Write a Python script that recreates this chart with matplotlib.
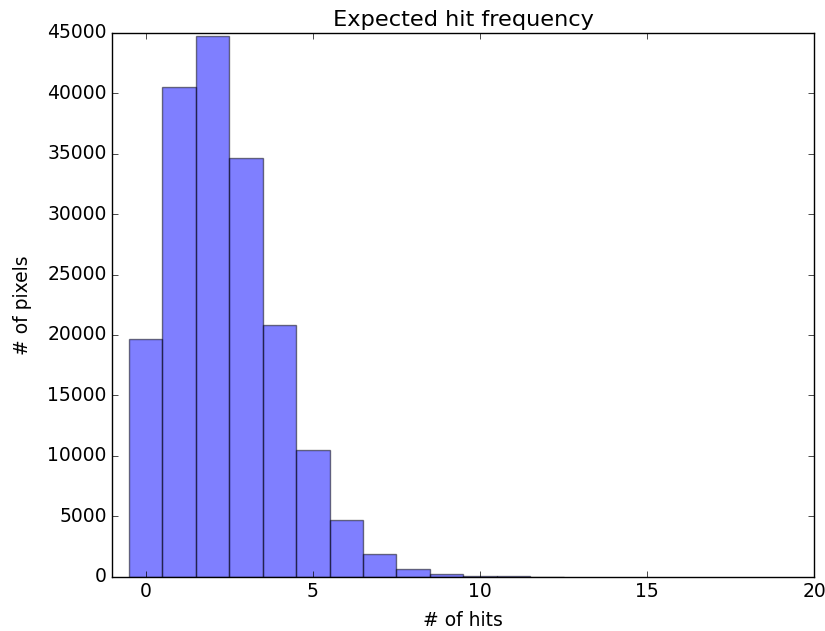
import matplotlib
matplotlib.use("Agg")
import matplotlib.pyplot as plt

hits = [0, 1, 2, 3, 4, 5, 6, 7, 8, 9, 10, 11, 12]
pixels = [19700, 40500, 44750, 34650, 20800, 10500, 4700, 1850, 650, 200, 60, 20, 8]

plt.style.use('classic')
plt.rcParams['font.size'] = 13.5
fig = plt.figure(figsize=(8.25, 6.31), dpi=100)
ax = fig.add_axes([0.136, 0.086, 0.851, 0.862])
ax.bar(hits, pixels, width=1.0, align='center', color='blue', edgecolor='black',
       alpha=0.5, linewidth=1.0)
ax.set_xlim(-1, 20)
ax.set_ylim(0, 45000)
ax.set_title("Expected hit frequency")
ax.set_xlabel("# of hits", labelpad=7)
ax.set_ylabel("# of pixels", labelpad=11)
fig.savefig("out.png", dpi=100)
